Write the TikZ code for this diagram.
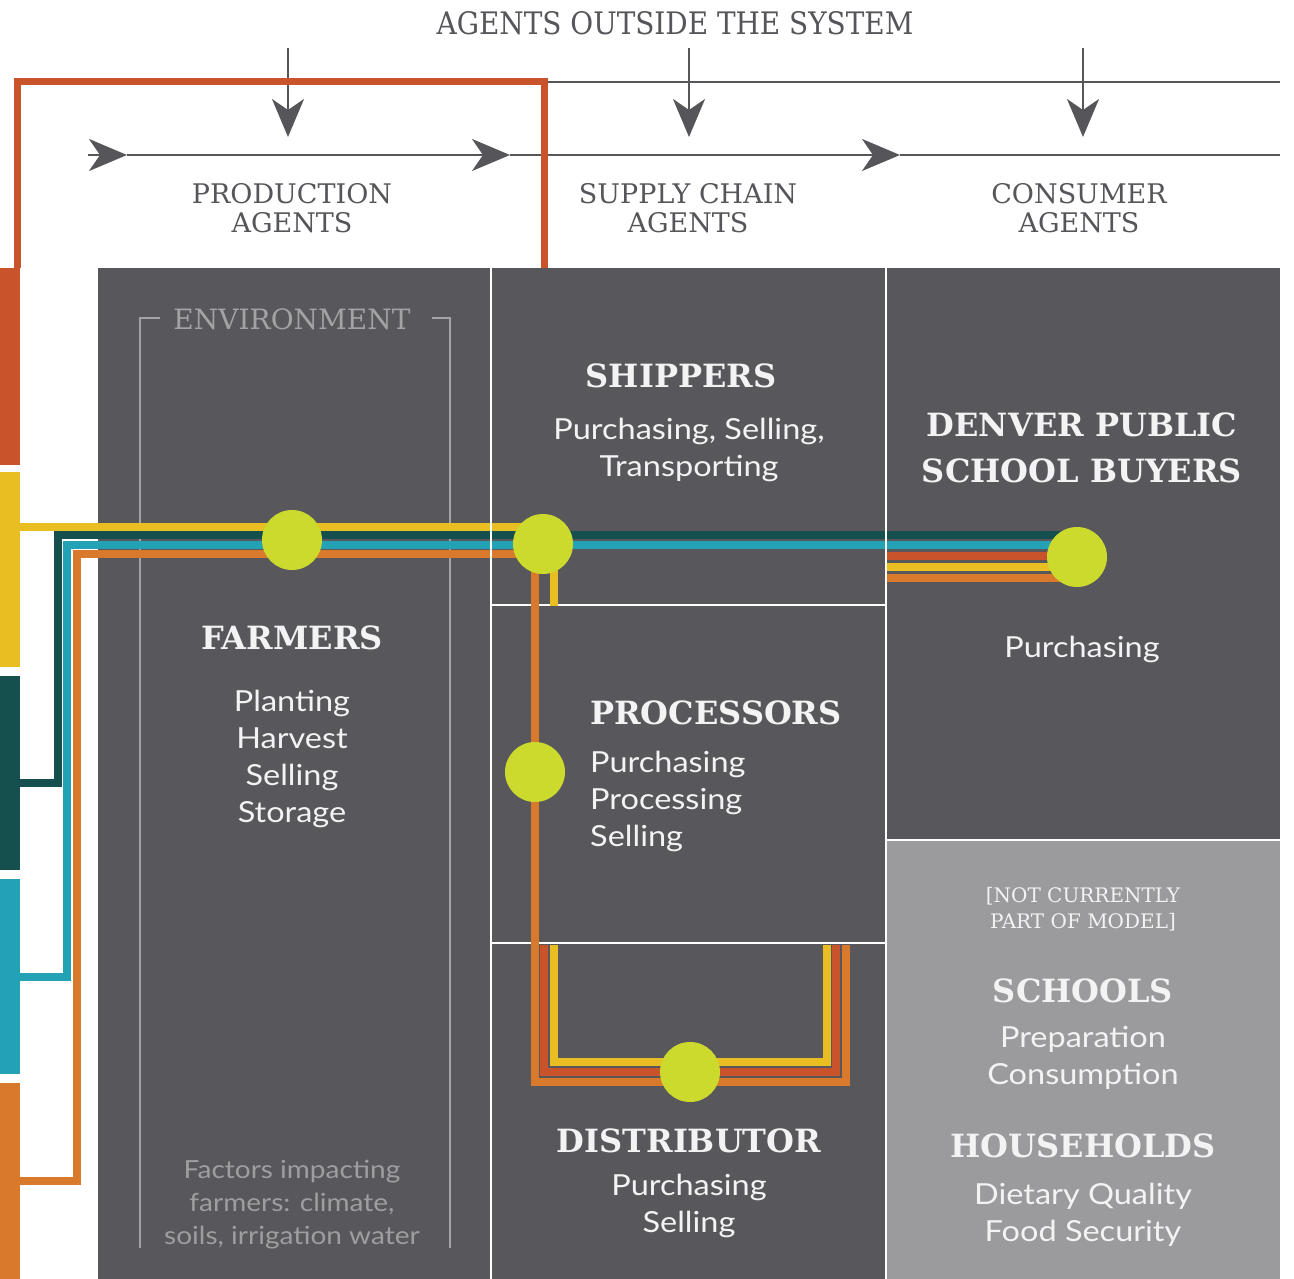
\documentclass[tikz,border=0pt]{standalone}
\usepackage{fontspec}
\setmainfont{Lato}[FakeStretch=1.12]
\newfontfamily\slab{DejaVu Serif Condensed}
\newfontfamily\slabwide{DejaVu Serif}
\usetikzlibrary{arrows.meta}
\definecolor{panel}{HTML}{58585C}
\definecolor{panellight}{HTML}{9B9A9C}
\definecolor{ink}{HTML}{55555A}
\definecolor{rust}{HTML}{C9532B}
\definecolor{gold}{HTML}{E8BE22}
\definecolor{deepteal}{HTML}{15504F}
\definecolor{teal2}{HTML}{24A2B5}
\definecolor{amber}{HTML}{D9792B}
\definecolor{lime}{HTML}{CBDA2C}
\definecolor{envgray}{HTML}{A3A3A6}
\definecolor{paper}{HTML}{F3F3F3}
\definecolor{faint}{HTML}{9E9EA1}
\begin{document}
\begin{tikzpicture}[x=1pt,y=-1pt,
  flow/.style={line width=8pt},
  guide/.style={draw=ink,line width=2pt},
  tip/.style={-{Stealth[length=38pt,width=32pt,inset=11pt]}},
  hub/.style={circle,fill=lime,minimum size=60pt,inner sep=0pt},
  head/.style={text=paper,font=\slabwide\bfseries\fontsize{32}{46}\selectfont,align=center,inner sep=0pt},
  body/.style={text=paper,font=\fontsize{29}{37}\selectfont,align=center,inner sep=0pt},
  colhead/.style={text=ink,font=\slabwide\fontsize{27}{29}\selectfont,align=center,inner sep=0pt},
]
\useasboundingbox (0,0) rectangle (1294,1279);
\fill[white] (0,0) rectangle (1294,1279);

% agent panels
\fill[panel] (98,268) rectangle (490,1279);
\fill[panel] (492,268) rectangle (885,604);
\fill[panel] (492,606) rectangle (885,942);
\fill[panel] (492,944) rectangle (885,1279);
\fill[panel] (887,268) rectangle (1280,839);
\fill[panellight] (887,841) rectangle (1280,1279);

% colour key bars on the left edge
\fill[rust] (0,268) rectangle (20,465);
\fill[gold] (0,472) rectangle (20,667);
\fill[deepteal] (0,676) rectangle (20,870);
\fill[teal2] (0,879) rectangle (20,1074);
\fill[amber] (0,1083) rectangle (20,1279);

% environment bracket
\draw[envgray,line width=2pt] (160,318) -- (140,318) -- (140,1248);
\draw[envgray,line width=2pt] (432,318) -- (450,318) -- (450,1248);
\node[text=envgray,font=\slabwide\fontsize{28}{30}\selectfont,inner sep=0pt,anchor=base] (env) at (292,329) {ENVIRONMENT};

% outside-agent guides
\coordinate (topL) at (547,82);
\coordinate (topR) at (1280,82);
\draw[guide] (topL) -- (topR);
\coordinate (h0) at (88,155);
\coordinate (h1) at (127,155);
\coordinate (h2) at (510,155);
\coordinate (h3) at (900,155);
\coordinate (h4) at (1280,155);
\draw[guide,tip] (h0) -- (h1);
\draw[guide,tip] (h1) -- (h2);
\draw[guide,tip] (h2) -- (h3);
\draw[guide] (h3) -- (h4);
\foreach \x/\n in {288/a,689/b,1083/c}{
  \coordinate (v\n0) at (\x,48);
  \coordinate (v\n1) at (\x,137);
  \draw[guide,tip] (v\n0) -- (v\n1);
}

% rust loop over the production column
\draw[rust,line width=7pt] (17,268) -- (17,82) -- (544,82) -- (544,268);

% flows
\draw[deepteal,flow] (20,783) -- (58,783) -- (58,535) -- (1077,535);
\draw[teal2,flow] (20,977) -- (67,977) -- (67,545) -- (1077,545);
\draw[amber,flow] (20,1181) -- (77,1181) -- (77,554) -- (535,554) -- (535,1082) -- (846,1082) -- (846,945);
\draw[gold,flow] (20,527) -- (554,527) -- (554,606);
\draw[rust,flow] (544,945) -- (544,1072) -- (836,1072) -- (836,945);
\draw[gold,flow] (554,945) -- (554,1062) -- (827,1062) -- (827,945);
\draw[rust,flow] (887,556) -- (1077,556);
\draw[gold,flow] (887,567) -- (1077,567);
\draw[amber,flow] (887,578) -- (1077,578);
\draw[white,line width=1.5pt] (491,520) -- (491,560);
\draw[white,line width=1.5pt] (886,520) -- (886,560);

% hubs
\node[hub] (farmhub) at (292,540) {};
\node[hub] (shiphub) at (543,544) {};
\node[hub] (prochub) at (535,772) {};
\node[hub] (disthub) at (690,1072) {};
\node[hub] (dpshub) at (1077,557) {};

% headings
\node[colhead,font=\slab\fontsize{31}{32}\selectfont,anchor=base] (outside) at (675,35) {AGENTS OUTSIDE THE SYSTEM};
\node[colhead,anchor=north] (prod) at (292,183) {PRODUCTION\\AGENTS};
\node[colhead,anchor=north] (supp) at (688,183) {SUPPLY CHAIN\\AGENTS};
\node[colhead,anchor=north] (cons) at (1079,183) {CONSUMER\\AGENTS};

% production
\node[head,anchor=base] (farmers) at (292,649) {FARMERS};
\node[body,anchor=north] (farmwork) at (292,690) {Planting\\Harvest\\Selling\\Storage};
\node[body,text=faint,font=\fontsize{25}{33}\selectfont,anchor=north] (factors) at (292,1160) {Factors impacting\\farmers: climate,\\soils, irrigation water};

% supply chain
\node[head,anchor=base] (shippers) at (681,387) {SHIPPERS};
\node[body,anchor=north] (shipwork) at (689,418) {Purchasing, Selling,\\Transporting};
\node[head,anchor=base west] (processors) at (590,724) {PROCESSORS};
\node[body,align=left,anchor=north west] (procwork) at (590,751) {Purchasing\\Processing\\Selling};
\node[head,anchor=base] (distributor) at (689,1152) {DISTRIBUTOR};
\node[body,anchor=north] (distwork) at (689,1174) {Purchasing\\Selling};

% consumers
\node[head,font=\slabwide\bfseries\fontsize{32}{46}\selectfont,anchor=north] (dps) at (1082,413) {DENVER PUBLIC\\SCHOOL BUYERS};
\node[head,font=\slabwide\fontsize{20}{26}\selectfont,anchor=north] (note) at (1083,887) {[NOT CURRENTLY\\PART OF MODEL]};
\node[body,anchor=north] (dpswork) at (1082,636) {Purchasing};
\node[head,anchor=base] (schools) at (1083,1002) {SCHOOLS};
\node[body,anchor=north] (schoolwork) at (1083,1026) {Preparation\\Consumption};
\node[head,anchor=base] (households) at (1083,1157) {HOUSEHOLDS};
\node[body,anchor=north] (housework) at (1083,1183) {Dietary Quality\\Food Security};
\end{tikzpicture}
\end{document}
